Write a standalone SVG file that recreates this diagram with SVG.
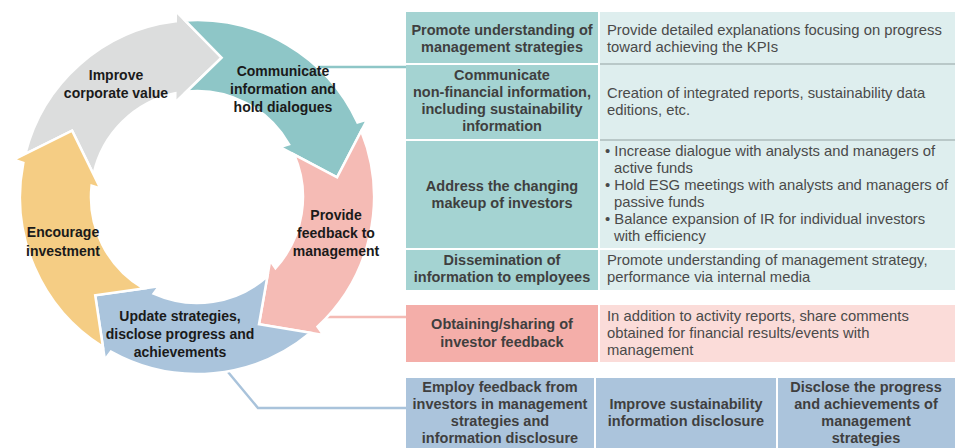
<svg xmlns="http://www.w3.org/2000/svg" width="955" height="448" viewBox="0 0 955 448">
<style>
.arr{stroke:#fff;stroke-width:2.5;stroke-linejoin:miter}
.ct{font-family:"Liberation Sans",Arial,sans-serif;font-weight:bold;font-size:14px;fill:#1a1a1a;text-anchor:middle}
.th{font-family:"Liberation Sans",Arial,sans-serif;font-weight:bold;font-size:14.5px;fill:#3f3f3f;text-anchor:middle}
.tr{font-family:"Liberation Sans",Arial,sans-serif;font-size:14.8px;fill:#4a4a4a}
.con{fill:none;stroke-width:2.5}
</style>
<rect width="955" height="448" fill="#fff"/>
<g id="connectors">
<polyline class="con" stroke="#8EC6C7" points="316,67 406,67"/>
<polyline class="con" stroke="#F4BBB5" points="326,317 406,317"/>
<polyline class="con" stroke="#A9C3DB" points="228,372 258,408 406,408"/>
</g>
<g id="arrow-improve">
<path class="arr" fill="#DCDDDD" d="M25.3,153.9 A177,177 0 0 1 175.7,21.3 L175.8,11.2 L221.6,57.7 L175.2,102.5 L175.3,93.2 A106,106 0 0 0 93.5,174.2 L72.1,130.6 Z"/>
<text class="ct"><tspan x="116" y="80">Improve</tspan><tspan x="116" y="98">corporate value</tspan></text>
</g>
<g id="arrow-communicate">
<path class="arr" fill="#8EC6C7" d="M185.0,20.4 A177,177 0 0 1 357.5,122.5 L367.2,119.5 L337.1,177.3 L280.1,147.0 L289.0,144.3 A106,106 0 0 0 186.7,91.5 L221.6,57.7 Z"/>
<text class="ct"><tspan x="283" y="76">Communicate</tspan><tspan x="283" y="94">information and</tspan><tspan x="283" y="112">hold dialogues</tspan></text>
</g>
<g id="arrow-feedback">
<path class="arr" fill="#F5BBB5" d="M361.2,131.0 A177,177 0 0 1 317.5,326.7 L323.3,334.9 L259.0,324.2 L270.2,260.6 L275.5,268.2 A106,106 0 0 0 294.1,154.6 L337.1,177.3 Z"/>
<text class="ct"><tspan x="336" y="220">Provide</tspan><tspan x="336" y="238">feedback to</tspan><tspan x="336" y="256">management</tspan></text>
</g>
<g id="arrow-update">
<path class="arr" fill="#AAC4DC" d="M310.5,332.8 A177,177 0 0 1 110.9,351.7 L104.9,359.8 L95.2,295.3 L159.1,286.3 L153.6,293.7 A106,106 0 0 0 267.4,276.3 L259.0,324.2 Z"/>
<text class="ct"><tspan x="180" y="321">Update strategies,</tspan><tspan x="180" y="339">disclose progress and</tspan><tspan x="180" y="357">achievements</tspan></text>
</g>
<g id="arrow-encourage">
<path class="arr" fill="#F5CD84" d="M102.9,346.9 A177,177 0 0 1 23.3,162.9 L13.8,159.7 L72.1,130.6 L100.4,188.5 L91.6,185.6 A106,106 0 0 0 143.4,288.4 L95.2,295.3 Z"/>
<text class="ct"><tspan x="63" y="237">Encourage</tspan><tspan x="63" y="256">investment</tspan></text>
</g>
<g id="table-communicate">
<rect x="406" y="12" width="192" height="51" fill="#A4D3D2"/>
<rect x="600" y="12" width="355" height="51" fill="#DEEEEE"/>
<rect x="406" y="65" width="192" height="74" fill="#A4D3D2"/>
<rect x="600" y="65" width="355" height="74" fill="#DEEEEE"/>
<rect x="406" y="141" width="192" height="107" fill="#A4D3D2"/>
<rect x="600" y="141" width="355" height="107" fill="#DEEEEE"/>
<rect x="406" y="250" width="192" height="40" fill="#A4D3D2"/>
<rect x="600" y="250" width="355" height="40" fill="#DEEEEE"/>
<rect x="600" y="63" width="355" height="2" fill="#B9C8C8"/>
<rect x="600" y="139" width="355" height="2" fill="#B9C8C8"/>
<text class="th"><tspan x="502" y="35">Promote understanding of</tspan><tspan x="502" y="52">management strategies</tspan></text>
<text class="tr"><tspan x="607" y="35">Provide detailed explanations focusing on progress</tspan><tspan x="607" y="52">toward achieving the KPIs</tspan></text>
<text class="th"><tspan x="502" y="80">Communicate</tspan><tspan x="502" y="97">non-financial information,</tspan><tspan x="502" y="114">including sustainability</tspan><tspan x="502" y="131">information</tspan></text>
<text class="tr"><tspan x="607" y="98">Creation of integrated reports, sustainability data</tspan><tspan x="607" y="115">editions, etc.</tspan></text>
<text class="th"><tspan x="502" y="191">Address the changing</tspan><tspan x="502" y="208">makeup of investors</tspan></text>
<text class="tr"><tspan x="605" y="156">• Increase dialogue with analysts and managers of</tspan><tspan x="614" y="173">active funds</tspan><tspan x="605" y="190">• Hold ESG meetings with analysts and managers of</tspan><tspan x="614" y="207">passive funds</tspan><tspan x="605" y="224">• Balance expansion of IR for individual investors</tspan><tspan x="614" y="241">with efficiency</tspan></text>
<text class="th"><tspan x="502" y="265">Dissemination of</tspan><tspan x="502" y="282">information to employees</tspan></text>
<text class="tr"><tspan x="607" y="265">Promote understanding of management strategy,</tspan><tspan x="607" y="282">performance via internal media</tspan></text>
</g>
<g id="table-feedback">
<rect x="406" y="305" width="192" height="57" fill="#F4AEA9"/>
<rect x="600" y="305" width="355" height="57" fill="#FBDCD9"/>
<text class="th"><tspan x="502" y="329">Obtaining/sharing of</tspan><tspan x="502" y="347">investor feedback</tspan></text>
<text class="tr"><tspan x="607" y="321">In addition to activity reports, share comments</tspan><tspan x="607" y="338">obtained for financial results/events with</tspan><tspan x="607" y="355">management</tspan></text>
</g>
<g id="table-update">
<rect x="406" y="378" width="188" height="70" fill="#ABC4DC"/>
<rect x="596" y="378" width="180" height="70" fill="#ABC4DC"/>
<rect x="778" y="378" width="177" height="70" fill="#ABC4DC"/>
<text class="th"><tspan x="500" y="392">Employ feedback from</tspan><tspan x="500" y="409">investors in management</tspan><tspan x="500" y="426">strategies and</tspan><tspan x="500" y="443">information disclosure</tspan></text>
<text class="th"><tspan x="686" y="409">Improve sustainability</tspan><tspan x="686" y="426">information disclosure</tspan></text>
<text class="th"><tspan x="866" y="392">Disclose the progress</tspan><tspan x="866" y="409">and achievements of</tspan><tspan x="866" y="426">management</tspan><tspan x="866" y="443">strategies</tspan></text>
</g>
</svg>
